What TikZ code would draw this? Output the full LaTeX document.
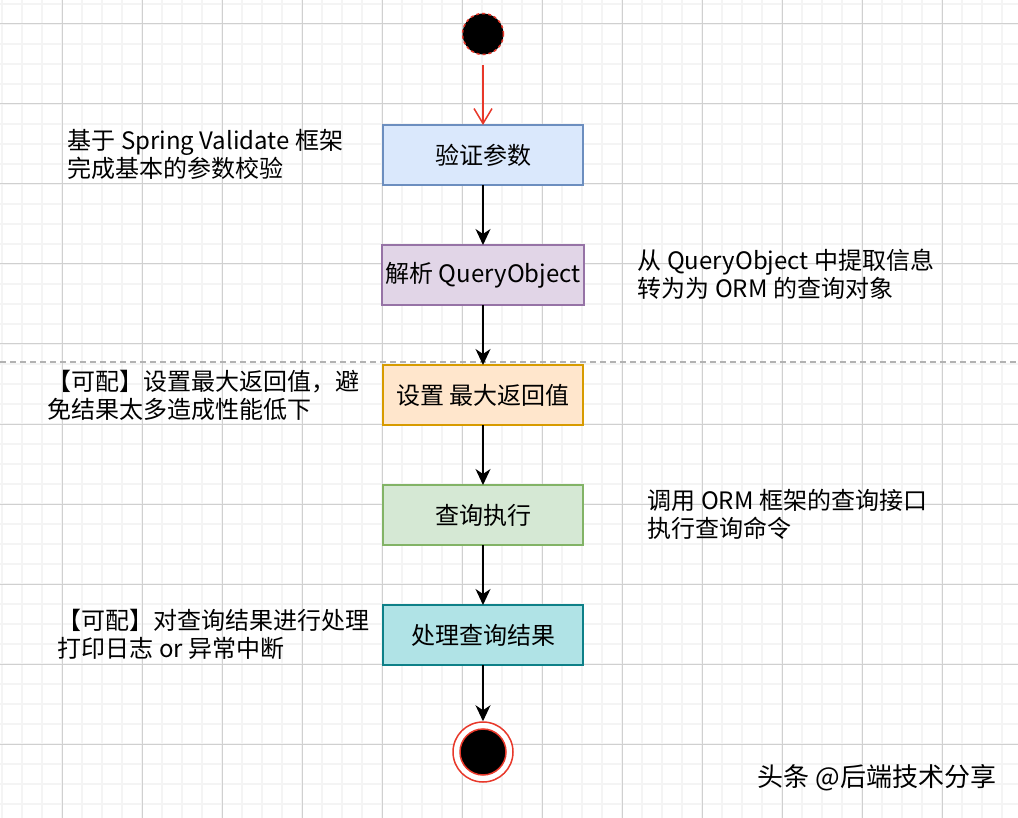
\documentclass[tikz,border=0pt]{standalone}
\usepackage{fontspec}
\setmainfont{Noto Sans CJK SC}
\usetikzlibrary{arrows.meta,positioning}

\definecolor{gridminor}{HTML}{F4F4F4}
\definecolor{gridmajor}{HTML}{D0D0D0}
\definecolor{vfill}{HTML}{DAE8FC}\definecolor{vline}{HTML}{6C8EBF}
\definecolor{pfill}{HTML}{E1D5E7}\definecolor{pline}{HTML}{9673A6}
\definecolor{sfill}{HTML}{FFE6CC}\definecolor{sline}{HTML}{D79B00}
\definecolor{qfill}{HTML}{D5E8D4}\definecolor{qline}{HTML}{82B366}
\definecolor{rfill}{HTML}{B0E3E6}\definecolor{rline}{HTML}{0E8088}
\definecolor{umlred}{HTML}{E8382A}

\begin{document}
\begin{tikzpicture}[x=1pt,y=-1pt,->,>={Stealth[length=16pt,width=15pt,inset=5pt]},
        line width=1.5pt,node distance=60pt,
        box/.style={rectangle,draw,outer sep=0pt,minimum width=200pt,minimum height=60pt,
          font=\fontsize{24}{29}\selectfont},
        note/.style={anchor=west,align=left,inner sep=0pt,
          font=\fontsize{24}{28}\selectfont}]

  % grid
  \useasboundingbox (0,0) rectangle (1018,818);
  \fill[white] (0,0) rectangle (1018,818);
  \foreach \x in {2,22,...,1018}
    \draw[-,gridminor,line width=1.5pt] (\x,0) -- (\x,818);
  \foreach \y in {4,24,...,818}
    \draw[-,gridminor,line width=1.5pt] (0,\y) -- (1018,\y);
  \foreach \x in {62,142,...,1018}
    \draw[-,gridmajor,line width=1pt] (\x,0) -- (\x,818);
  \foreach \y in {24,104,...,818}
    \draw[-,gridmajor,line width=1pt] (0,\y) -- (1018,\y);
  \draw[-,gray!60,dashed,line width=1.5pt,dash pattern=on 6pt off 4pt] (0,362) -- (1018,362);

  \node[circle,fill=black,draw=umlred,dashed,minimum size=41pt,inner sep=0pt] (start) at (483,34) {};

  \node[box,fill=vfill,draw=vline] (verify) at (483,155) {验证参数};
  \node[box,fill=pfill,draw=pline] (parse) [below=of verify] {解析 QueryObject};
  \node[box,fill=sfill,draw=sline] (limit) [below=of parse] {设置 最大返回值};
  \node[box,fill=qfill,draw=qline] (query) [below=of limit] {查询执行};
  \node[box,fill=rfill,draw=rline] (result) [below=of query] {处理查询结果};

  \node[circle,draw=umlred,fill=white,minimum size=60pt,inner sep=0pt] (end) at (483,752) {};
  \node[circle,draw=umlred,fill=black,minimum size=46pt,inner sep=0pt] (enddot) at (end) {};

  \draw[umlred,-{Straight Barb[length=15pt,width=18pt]},shorten <=10pt] (start) -- (verify);
  \draw (verify) -- (parse);
  \draw (parse) -- (limit);
  \draw (limit) -- (query);
  \draw (query) -- (result);
  \draw (result) -- (end);

  % notes
  \node[note] (n1) at (67,154) {基于 Spring Validate 框架\\完成基本的参数校验};
  \node[note] (n2) at (637,274) {从 QueryObject 中提取信息\\转为为 ORM 的查询对象};
  \node[note] (n3) at (47,395) {【可配】设置最大返回值，避\\免结果太多造成性能低下};
  \node[note] (n4) at (647,514) {调用 ORM 框架的查询接口\\执行查询命令};
  \node[note] (n5) at (57,634) {【可配】对查询结果进行处理\\打印日志 or 异常中断};

  \node[anchor=west,inner sep=0pt,text=black,font=\fontsize{26}{30}\selectfont] (mark) at (757,778) {头条 @后端技术分享};

\end{tikzpicture}
\end{document}
